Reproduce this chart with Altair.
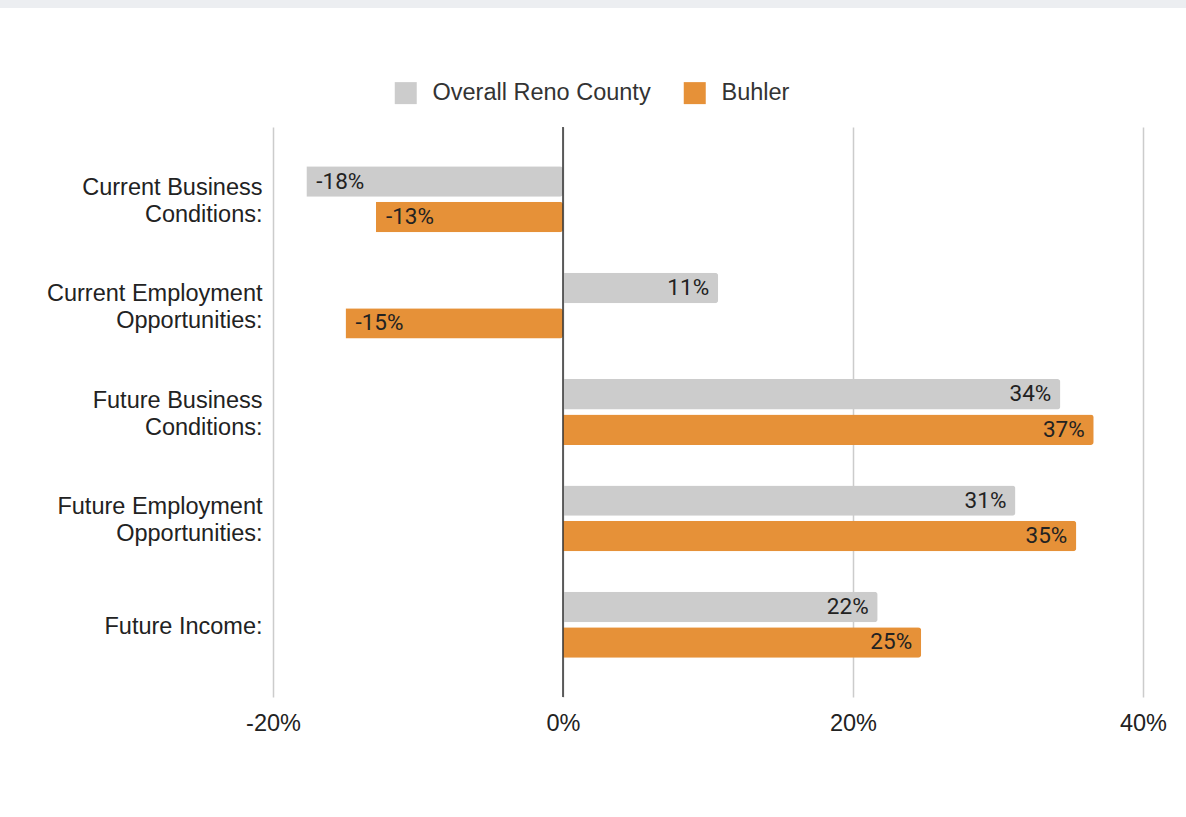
import altair as alt
import pandas as pd

categories = [
    "Current Business Conditions:",
    "Current Employment Opportunities:",
    "Future Business Conditions:",
    "Future Employment Opportunities:",
    "Future Income:",
]
series = ["Overall Reno County", "Buhler"]
reno_values = [-17.7, 10.7, 34.3, 31.2, 21.7]
buhler_values = [-12.9, -15.0, 36.6, 35.4, 24.7]
colors = ["#cccccc", "#e69138"]
tick_values = [-20, 0, 20, 40]

rows = []
for c, r, b in zip(categories, reno_values, buhler_values):
    rows.append({"category": c, "series": series[0], "value": r})
    rows.append({"category": c, "series": series[1], "value": b})
df = pd.DataFrame(rows)

AXFONT = "Liberation Sans"
VALFONT = "Roboto"
W, H = 870, 570

y_enc = alt.Y(
    "category:N",
    sort=categories,
    scale=alt.Scale(paddingInner=0.38, paddingOuter=0.37),
    axis=alt.Axis(
        title=None,
        ticks=False,
        domain=False,
        labelFont=AXFONT,
        labelFontSize=23.5,
        labelColor="#222222",
        labelPadding=11,
        labelLineHeight=27,
        labelLimit=400,
        labelOffset={"condition": {"test": "length(datum.label) > 16", "value": -11.5}, "value": 2},
        labelExpr="length(datum.label) > 16 ? [substring(datum.label, 0, lastindexof(datum.label, ' ')), substring(datum.label, lastindexof(datum.label, ' ') + 1)] : datum.label",
    ),
)
yoff_enc = alt.YOffset(
    "series:N", sort=series, scale=alt.Scale(paddingInner=0.14, paddingOuter=0)
)
x_enc = alt.X(
    "value:Q",
    scale=alt.Scale(domain=[-20, 40], nice=False, zero=False),
    axis=alt.Axis(
        title=None,
        values=tick_values,
        ticks=False,
        domain=False,
        grid=True,
        gridColor="#cccccc",
        gridWidth=1.5,
        labelFont=AXFONT,
        labelFontSize=23.5,
        labelColor="#222222",
        labelPadding=14,
        labelFlush=False,
        labelExpr="datum.value + '%'",
    ),
)

base = alt.Chart(df).transform_calculate(
    label="round(datum.value) + '%'"
)

bars = base.mark_bar(cornerRadiusEnd=3).encode(
    x=x_enc,
    y=y_enc,
    yOffset=yoff_enc,
    color=alt.Color(
        "series:N",
        sort=series,
        scale=alt.Scale(domain=series, range=colors),
        legend=alt.Legend(
            title=None,
            orient="none",
            direction="horizontal",
            legendX=121,
            legendY=-46,
            symbolType="square",
            symbolSize=484,
            symbolStrokeWidth=0,
            symbolOpacity=1,
            labelFont=AXFONT,
            labelFontSize=23.5,
            labelColor="#333333",
            labelOffset=15,
            labelLimit=500,
            columnPadding=32,
        ),
    ),
)

text_pos = base.transform_filter("datum.value >= 0").mark_text(
    align="right", baseline="middle", dx=-9, font=VALFONT, fontSize=22.5, color="#222222"
).encode(x="value:Q", y=alt.Y("category:N", sort=categories), yOffset=yoff_enc, text="label:N")

text_neg = base.transform_filter("datum.value < 0").mark_text(
    align="left", baseline="middle", dx=10, font=VALFONT, fontSize=22.5, color="#222222"
).encode(x="value:Q", y=alt.Y("category:N", sort=categories), yOffset=yoff_enc, text="label:N")

zero_rule = alt.Chart(pd.DataFrame({"v": [0]})).mark_rule(
    color="#333333", strokeWidth=1.5
).encode(x="v:Q")

top_band = alt.Chart(pd.DataFrame({"v": [0]})).mark_rect(color="#eceef1").encode(
    x=alt.value(-273), x2=alt.value(913), y=alt.value(-127), y2=alt.value(-119)
)

chart = (
    alt.layer(top_band, bars, text_pos, text_neg, zero_rule)
    .properties(width=W, height=H, padding=0, background="white")
    .configure_view(stroke=None)
)

chart.save("out.html", embed_options={"renderer": "svg", "actions": False})
